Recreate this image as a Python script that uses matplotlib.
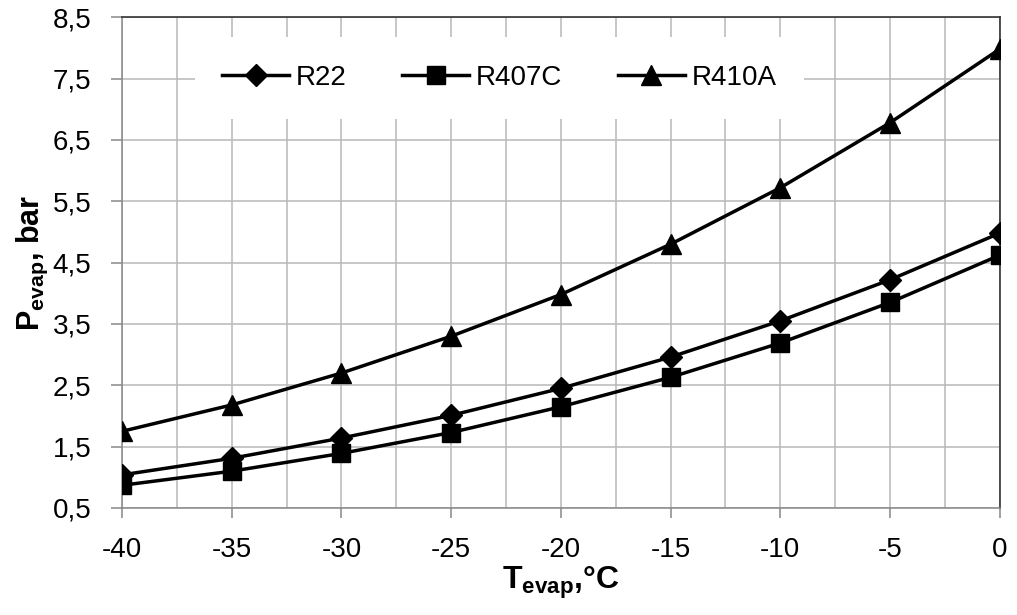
import matplotlib
matplotlib.use("Agg")
import matplotlib.pyplot as plt
from matplotlib.ticker import FixedLocator, MultipleLocator, FuncFormatter

plt.rcParams["font.family"] = ["Liberation Sans", "DejaVu Sans"]
plt.rcParams["mathtext.fontset"] = "custom"
plt.rcParams["mathtext.rm"] = "Liberation Sans"
plt.rcParams["mathtext.bf"] = "Liberation Sans:bold"
plt.rcParams["axes.unicode_minus"] = False

t_evap = [-40, -35, -30, -25, -20, -15, -10, -5, 0]
p_r22 = [1.04, 1.31, 1.64, 2.01, 2.45, 2.96, 3.55, 4.22, 4.98]
p_r407c = [0.87, 1.10, 1.39, 1.73, 2.15, 2.63, 3.19, 3.85, 4.62]
p_r410a = [1.75, 2.18, 2.70, 3.30, 3.98, 4.80, 5.72, 6.78, 7.98]
y_ticks = [0.5, 1.5, 2.5, 3.5, 4.5, 5.5, 6.5, 7.5, 8.5]

fig = plt.figure(figsize=(10.17, 6.15), dpi=100)
ax = fig.add_axes([0.12, 0.174, 0.863, 0.798])

lw = 2.5
ax.plot(t_evap, p_r22, color="black", lw=lw, marker="D", ms=11, label="R22", zorder=3)
ax.plot(t_evap, p_r407c, color="black", lw=lw, marker="s", ms=13, label="R407C", zorder=3)
ax.plot(t_evap, p_r410a, color="black", lw=lw, marker="^", ms=14, label="R410A", zorder=3)

ax.set_xlim(-40, 0)
ax.set_ylim(0.5, 8.5)
ax.xaxis.set_major_locator(MultipleLocator(5))
ax.xaxis.set_minor_locator(MultipleLocator(2.5))
ax.yaxis.set_major_locator(FixedLocator(y_ticks))
ax.yaxis.set_major_formatter(FuncFormatter(lambda v, p: f"{v:.1f}".replace(".", ",")))
ax.grid(True, which="major", color="#b8b8b8", lw=1.1)
ax.grid(True, which="minor", axis="x", color="#b8b8b8", lw=1.1)
ax.tick_params(axis="both", which="major", labelsize=20, color="#888888", width=1.1)
ax.tick_params(axis="y", which="major", length=8, pad=14)
ax.tick_params(axis="x", which="major", length=7, pad=14)
ax.tick_params(axis="x", which="minor", length=0)

for side in ["left", "bottom"]:
    ax.spines[side].set_color("#888888")
    ax.spines[side].set_linewidth(1.1)
for side in ["top", "right"]:
    ax.spines[side].set_color("#333333")
    ax.spines[side].set_linewidth(1.2)

ax.set_xlabel(r"$\mathbf{T_{evap}}$,°C", fontsize=23, fontweight="bold", labelpad=1)
ax.set_ylabel(r"$\mathbf{P_{evap}}$, bar", fontsize=22, fontweight="bold", labelpad=2)

leg = ax.legend(loc="center", bbox_to_anchor=(0.43, 0.876), ncol=3, frameon=True,
                fontsize=20, handlelength=2.4, columnspacing=2.0, borderpad=1.0,
                handletextpad=0.25)
leg.get_frame().set_facecolor("white")
leg.get_frame().set_edgecolor("none")
leg.get_frame().set_alpha(1.0)
leg.get_frame().set_boxstyle("square", pad=0)

fig.savefig("out.png", dpi=100)
